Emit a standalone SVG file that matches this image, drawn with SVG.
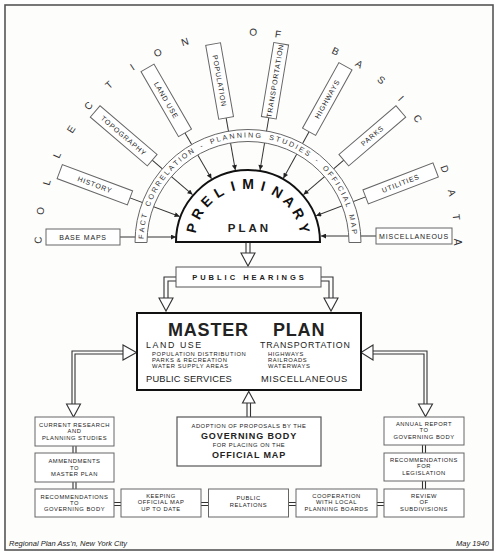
<svg xmlns="http://www.w3.org/2000/svg" width="500" height="554" viewBox="0 0 500 554">
<defs>
<style>
text{font-family:"Liberation Sans",Arial,sans-serif;fill:#222}
.box{fill:#fff;stroke:#666;stroke-width:1}
.rt{font-size:7px;text-anchor:middle;letter-spacing:0.8px}
.cl{font-size:10px;text-anchor:middle;fill:#333}
.bl{font-size:7.2px;text-anchor:middle;fill:#333}
.pl{font-size:14px;font-weight:bold;text-anchor:middle;fill:#111}
.ray{stroke:#333;stroke-width:1;fill:none}
.dl{stroke:#333;stroke-width:1.1;fill:none}
.hh{fill:#fff;stroke:#333;stroke-width:1.1;stroke-linejoin:miter}
.st{font-size:5.8px;letter-spacing:0.55px;text-anchor:middle}
.ms{font-size:5.8px;letter-spacing:0.65px}
</style>
<marker id="ah" viewBox="0 0 10 10" refX="10" refY="5" markerWidth="7" markerHeight="5" orient="auto" markerUnits="userSpaceOnUse"><path d="M0,0 L10,5 L0,10 z" fill="#222"/></marker>
</defs>
<rect x="0" y="0" width="500" height="554" fill="#fff"/>
<rect x="5" y="5" width="488" height="545" fill="#fdfdfc" stroke="#555" stroke-width="1.6"/>

<g id="connectors">
<g transform="translate(248 242)">
<line class="ray" x1="-126" y1="0" x2="-73" y2="0" transform="rotate(20.5)" marker-end="url(#ah)"/>
<line class="ray" x1="-126" y1="0" x2="-73" y2="0" transform="rotate(40.5)" marker-end="url(#ah)"/>
<line class="ray" x1="-126" y1="0" x2="-73" y2="0" transform="rotate(60)" marker-end="url(#ah)"/>
<line class="ray" x1="-126" y1="0" x2="-73" y2="0" transform="rotate(80)" marker-end="url(#ah)"/>
<line class="ray" x1="126" y1="0" x2="73" y2="0" transform="rotate(-80.5)" marker-end="url(#ah)"/>
<line class="ray" x1="126" y1="0" x2="73" y2="0" transform="rotate(-61)" marker-end="url(#ah)"/>
<line class="ray" x1="126" y1="0" x2="73" y2="0" transform="rotate(-40.5)" marker-end="url(#ah)"/>
<line class="ray" x1="126" y1="0" x2="73" y2="0" transform="rotate(-21)" marker-end="url(#ah)"/>
</g>
<line class="ray" x1="120" y1="237" x2="176" y2="237" marker-end="url(#ah)"/>
<line class="ray" x1="376" y1="236" x2="321" y2="236" marker-end="url(#ah)"/>
<path class="dl" d="M246,243 V253 M250,243 V253"/>
<polygon class="hh" points="241,253 255,253 248,266"/>
<path class="dl" d="M176,277 H164 V298 M176,281 H168 V298"/>
<polygon class="hh" points="159,298 173,298 166,311"/>
<path class="dl" d="M321,277 H333 V298 M321,281 H329 V298"/>
<polygon class="hh" points="324,298 338,298 331,311"/>
<path class="dl" d="M123,351 H72 V404 M123,354 H75 V404"/>
<polygon class="hh" points="123,345 123,360 136.5,352.5"/>
<polygon class="hh" points="66.5,404 80.5,404 73.5,417"/>
<path class="dl" d="M373,351 H427 V404 M373,354 H424 V404"/>
<polygon class="hh" points="373,345 373,360 361,352.5"/>
<polygon class="hh" points="418.5,404 432.5,404 425.5,416.5"/>
<path class="dl" d="M247,417 V403 M250.5,417 V403"/>
<polygon class="hh" points="242.5,403 255,403 248.75,391.5"/>
<path class="dl" d="M73,446 V453 M76,446 V453 M73,482 V489 M76,482 V489"/>
<path class="dl" d="M422.5,445 V453 M425.5,445 V453 M422.5,481 V489 M425.5,481 V489"/>
<path class="dl" d="M114,502.5 H121 M114,505.5 H121 M201,502.5 H208.5 M201,505.5 H208.5 M288.5,502.5 H296 M288.5,505.5 H296 M377,502.5 H384 M377,505.5 H384"/>
</g>

<g id="band">
<path d="M135,242.5 A113,113 0 0 1 361,242.5 L349,242.5 A101,101 0 0 0 147,242.5 Z" fill="#fff" stroke="#666" stroke-width="1"/>
<g transform="translate(248 242)">
<text class="bl" transform="rotate(-87.15)" y="-104.5">F</text>
<text class="bl" transform="rotate(-83.53)" y="-104.5">A</text>
<text class="bl" transform="rotate(-79.69)" y="-104.5">C</text>
<text class="bl" transform="rotate(-75.96)" y="-104.5">T</text>
<text class="bl" transform="rotate(-68.95)" y="-104.5">C</text>
<text class="bl" transform="rotate(-64.89)" y="-104.5">O</text>
<text class="bl" transform="rotate(-60.83)" y="-104.5">R</text>
<text class="bl" transform="rotate(-56.88)" y="-104.5">R</text>
<text class="bl" transform="rotate(-53.04)" y="-104.5">E</text>
<text class="bl" transform="rotate(-49.54)" y="-104.5">L</text>
<text class="bl" transform="rotate(-46.03)" y="-104.5">A</text>
<text class="bl" transform="rotate(-42.41)" y="-104.5">T</text>
<text class="bl" transform="rotate(-39.56)" y="-104.5">I</text>
<text class="bl" transform="rotate(-36.38)" y="-104.5">O</text>
<text class="bl" transform="rotate(-32.32)" y="-104.5">N</text>
<text class="bl" transform="rotate(-25.85)" y="-104.5">-</text>
<text class="bl" transform="rotate(-19.49)" y="-104.5">P</text>
<text class="bl" transform="rotate(-15.98)" y="-104.5">L</text>
<text class="bl" transform="rotate(-12.47)" y="-104.5">A</text>
<text class="bl" transform="rotate(-8.63)" y="-104.5">N</text>
<text class="bl" transform="rotate(-4.68)" y="-104.5">N</text>
<text class="bl" transform="rotate(-1.61)" y="-104.5">I</text>
<text class="bl" transform="rotate(1.46)" y="-104.5">N</text>
<text class="bl" transform="rotate(5.51)" y="-104.5">G</text>
<text class="bl" transform="rotate(12.75)" y="-104.5">S</text>
<text class="bl" transform="rotate(16.37)" y="-104.5">T</text>
<text class="bl" transform="rotate(20.1)" y="-104.5">U</text>
<text class="bl" transform="rotate(24.05)" y="-104.5">D</text>
<text class="bl" transform="rotate(27.12)" y="-104.5">I</text>
<text class="bl" transform="rotate(30.08)" y="-104.5">E</text>
<text class="bl" transform="rotate(33.81)" y="-104.5">S</text>
<text class="bl" transform="rotate(40.17)" y="-104.5">-</text>
<text class="bl" transform="rotate(46.75)" y="-104.5">O</text>
<text class="bl" transform="rotate(50.58)" y="-104.5">F</text>
<text class="bl" transform="rotate(54.09)" y="-104.5">F</text>
<text class="bl" transform="rotate(56.94)" y="-104.5">I</text>
<text class="bl" transform="rotate(60.01)" y="-104.5">C</text>
<text class="bl" transform="rotate(63.08)" y="-104.5">I</text>
<text class="bl" transform="rotate(66.05)" y="-104.5">A</text>
<text class="bl" transform="rotate(69.56)" y="-104.5">L</text>
<text class="bl" transform="rotate(76.68)" y="-104.5">M</text>
<text class="bl" transform="rotate(80.74)" y="-104.5">A</text>
<text class="bl" transform="rotate(84.47)" y="-104.5">P</text>
</g>
</g>

<g id="preliminary-plan">
<path d="M176,242 A72,72 0 0 1 320,242 Z" fill="#fff" stroke="#111" stroke-width="2"/>
<g transform="translate(248 242)">
<text class="pl" transform="rotate(-76)" y="-53">P</text>
<text class="pl" transform="rotate(-60.8)" y="-53">R</text>
<text class="pl" transform="rotate(-45.6)" y="-53">E</text>
<text class="pl" transform="rotate(-30.4)" y="-53">L</text>
<text class="pl" transform="rotate(-15.2)" y="-53">I</text>
<text class="pl" transform="rotate(0)" y="-53">M</text>
<text class="pl" transform="rotate(15.2)" y="-53">I</text>
<text class="pl" transform="rotate(30.4)" y="-53">N</text>
<text class="pl" transform="rotate(45.6)" y="-53">A</text>
<text class="pl" transform="rotate(60.8)" y="-53">R</text>
<text class="pl" transform="rotate(76)" y="-53">Y</text>
</g>
<text x="249.5" y="231.7" font-size="11.5" font-weight="bold" letter-spacing="3" text-anchor="middle" fill="#111">PLAN</text>
</g>

<g id="collection-label" transform="translate(248 242)">
<text class="cl" transform="rotate(-89.5)" y="-206.4">C</text>
<text class="cl" transform="rotate(-81.5)" y="-206.4">O</text>
<text class="cl" transform="rotate(-73.5)" y="-206.4">L</text>
<text class="cl" transform="rotate(-65.5)" y="-206.4">L</text>
<text class="cl" transform="rotate(-57.5)" y="-206.4">E</text>
<text class="cl" transform="rotate(-49.5)" y="-206.4">C</text>
<text class="cl" transform="rotate(-41.5)" y="-206.4">T</text>
<text class="cl" transform="rotate(-33.5)" y="-206.4">I</text>
<text class="cl" transform="rotate(-25.5)" y="-206.4">O</text>
<text class="cl" transform="rotate(-17.5)" y="-206.4">N</text>
<text class="cl" transform="rotate(1.4)" y="-206.4">O</text>
<text class="cl" transform="rotate(8.2)" y="-206.4">F</text>
<text class="cl" transform="rotate(24.6)" y="-206.4">B</text>
<text class="cl" transform="rotate(32)" y="-206.4">A</text>
<text class="cl" transform="rotate(39.4)" y="-206.4">S</text>
<text class="cl" transform="rotate(46.8)" y="-206.4">I</text>
<text class="cl" transform="rotate(54)" y="-206.4">C</text>
<text class="cl" transform="rotate(69.6)" y="-206.4">D</text>
<text class="cl" transform="rotate(76.4)" y="-206.4">A</text>
<text class="cl" transform="rotate(83.2)" y="-206.4">T</text>
<text class="cl" transform="rotate(90)" y="-206.4">A</text>
</g>

<g id="history" transform="translate(248 242) rotate(20.5)"><rect class="box" x="-201" y="-7.5" width="75" height="15"/><text class="rt" x="-163.5" y="2.5" letter-spacing="1">HISTORY</text></g>
<g id="topography" transform="translate(248 242) rotate(40.5)"><rect class="box" x="-201" y="-7.5" width="75" height="15"/><text class="rt" x="-163.5" y="2.5">TOPOGRAPHY</text></g>
<g id="land-use" transform="translate(248 242) rotate(60)"><rect class="box" x="-201" y="-7.5" width="75" height="15"/><text class="rt" x="-163.5" y="2.5" letter-spacing="1">LAND USE</text></g>
<g id="population" transform="translate(248 242) rotate(80)"><rect class="box" x="-201" y="-7.5" width="75" height="15"/><text class="rt" x="-163.5" y="2.5" letter-spacing="0.9">POPULATION</text></g>
<g id="transportation" transform="translate(248 242) rotate(-80.5)"><rect class="box" x="126" y="-7.5" width="75" height="15"/><text class="rt" x="163.5" y="2.5" letter-spacing="0.3">TRANSPORTATION</text></g>
<g id="highways" transform="translate(248 242) rotate(-61)"><rect class="box" x="126" y="-7.5" width="75" height="15"/><text class="rt" x="163.5" y="2.5" letter-spacing="1.3">HIGHWAYS</text></g>
<g id="parks" transform="translate(248 242) rotate(-40.5)"><rect class="box" x="126" y="-7.5" width="75" height="15"/><text class="rt" x="163.5" y="2.5" letter-spacing="1.2">PARKS</text></g>
<g id="utilities" transform="translate(248 242) rotate(-21)"><rect class="box" x="126" y="-7.5" width="75" height="15"/><text class="rt" x="163.5" y="2.5" letter-spacing="1.2">UTILITIES</text></g>
<g id="base-maps"><rect class="box" x="46" y="229" width="74" height="16"/><text class="rt" x="83" y="239.5" letter-spacing="1">BASE MAPS</text></g>
<g id="miscellaneous"><rect class="box" x="376" y="228" width="76" height="16"/><text class="rt" x="414" y="238.5" letter-spacing="0.5">MISCELLANEOUS</text></g>

<g id="public-hearings"><rect x="176" y="267" width="145" height="20" fill="#fff" stroke="#555" stroke-width="1"/><text x="249.5" y="280.3" font-size="7.5" font-weight="bold" letter-spacing="3" text-anchor="middle">PUBLIC  HEARINGS</text></g>

<g id="master-plan">
<rect x="137" y="313" width="224" height="77" fill="#fff" stroke="#111" stroke-width="2"/>
<text x="168" y="335.8" font-size="18" font-weight="bold" letter-spacing="0.8" fill="#111">MASTER</text>
<text x="273" y="335.8" font-size="18" font-weight="bold" letter-spacing="0.8" fill="#111">PLAN</text>
<text x="146" y="347.8" font-size="8.8" letter-spacing="1.6">LAND USE</text>
<text x="260" y="347.8" font-size="8.8" letter-spacing="0.78">TRANSPORTATION</text>
<text class="ms" x="152" y="355.9">POPULATION DISTRIBUTION</text>
<text class="ms" x="152" y="361.8">PARKS &amp; RECREATION</text>
<text class="ms" x="152" y="367.7">WATER SUPPLY AREAS</text>
<text class="ms" x="268" y="355.9">HIGHWAYS</text>
<text class="ms" x="268" y="361.8">RAILROADS</text>
<text class="ms" x="268" y="367.7">WATERWAYS</text>
<text x="146" y="382.3" font-size="9.3" letter-spacing="0.2">PUBLIC SERVICES</text>
<text x="261" y="382.3" font-size="9.3" letter-spacing="0.6">MISCELLANEOUS</text>
</g>

<g id="adoption">
<rect x="177" y="417" width="144" height="49" fill="#fff" stroke="#555" stroke-width="1.2"/>
<text class="st" x="249" y="428.3" letter-spacing="0.95">ADOPTION OF PROPOSALS BY THE</text>
<text x="249" y="439.3" font-size="9" font-weight="bold" letter-spacing="0.9" text-anchor="middle">GOVERNING   BODY</text>
<text class="st" x="249" y="446.7" letter-spacing="0.9">FOR PLACING ON THE</text>
<text x="249" y="458.3" font-size="9" font-weight="bold" letter-spacing="0.85" text-anchor="middle">OFFICIAL   MAP</text>
</g>

<g id="current-research"><rect class="box" x="35" y="417" width="79" height="29"/><text class="st" x="74.5" y="426.5">CURRENT RESEARCH</text><text class="st" x="74.5" y="433.3">AND</text><text class="st" x="74.5" y="440">PLANNING  STUDIES</text></g>
<g id="ammendments"><rect class="box" x="35" y="453" width="79" height="29"/><text class="st" x="74.5" y="463.3">AMMENDMENTS</text><text class="st" x="74.5" y="469.5">TO</text><text class="st" x="74.5" y="476">MASTER  PLAN</text></g>
<g id="recommendations-governing"><rect class="box" x="35" y="489" width="79" height="28"/><text class="st" x="74.5" y="499">RECOMMENDATIONS</text><text class="st" x="74.5" y="505">TO</text><text class="st" x="74.5" y="511.2">GOVERNING  BODY</text></g>
<g id="keeping-map"><rect class="box" x="121" y="489" width="80" height="28"/><text class="st" x="161" y="497.7">KEEPING</text><text class="st" x="161" y="504">OFFICIAL   MAP</text><text class="st" x="161" y="510.5">UP TO DATE</text></g>
<g id="public-relations"><rect class="box" x="208.5" y="489" width="80" height="28"/><text class="st" x="248.5" y="500">PUBLIC</text><text class="st" x="248.5" y="507">RELATIONS</text></g>
<g id="cooperation"><rect class="box" x="296" y="489" width="81" height="28"/><text class="st" x="336.5" y="497.7">COOPERATION</text><text class="st" x="336.5" y="504">WITH  LOCAL</text><text class="st" x="336.5" y="510.5">PLANNING BOARDS</text></g>
<g id="review-subdivisions"><rect class="box" x="384" y="489" width="80" height="28"/><text class="st" x="424" y="497.7">REVIEW</text><text class="st" x="424" y="504">OF</text><text class="st" x="424" y="510.5">SUBDIVISIONS</text></g>
<g id="annual-report"><rect class="box" x="384" y="417" width="80" height="28"/><text class="st" x="424" y="426">ANNUAL  REPORT</text><text class="st" x="424" y="432.3">TO</text><text class="st" x="424" y="439">GOVERNING  BODY</text></g>
<g id="recommendations-legislation"><rect class="box" x="384" y="453" width="80" height="28"/><text class="st" x="424" y="461.7">RECOMMENDATIONS</text><text class="st" x="424" y="468.2">FOR</text><text class="st" x="424" y="475">LEGISLATION</text></g>

<text x="9" y="546" font-size="7.5" font-style="italic" fill="#333">Regional Plan Ass’n, New York City</text>
<text x="489" y="546" font-size="7.5" font-style="italic" text-anchor="end" fill="#333">May 1940</text>
</svg>
